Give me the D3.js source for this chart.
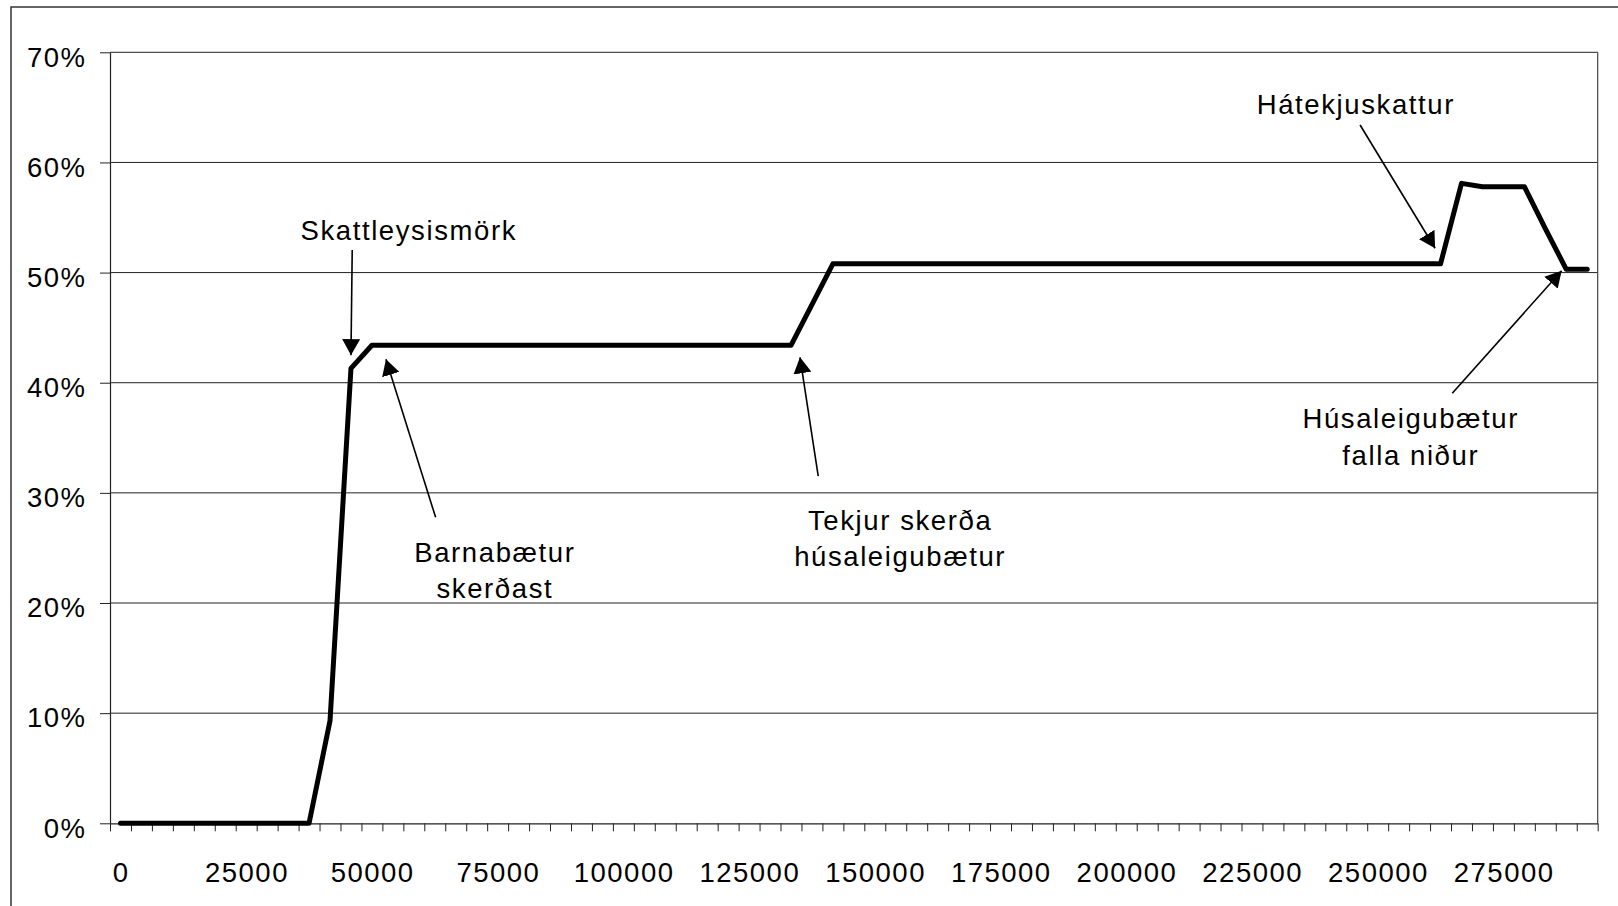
<!DOCTYPE html>
<html>
<head>
<meta charset="utf-8">
<script src="https://cdn.jsdelivr.net/npm/d3@7"></script>
<style>
  html, body { margin: 0; padding: 0; background: #fff; }
  svg { display: block; }
  text { font-family: "Liberation Sans", Arial, sans-serif; fill: #000; }
</style>
</head>
<body>
<svg id="chart" width="1618" height="906"></svg>
<script>
// ---- Data ----
const incomes = [
  0, 4167, 8333, 12500, 16667, 20833, 25000, 29167, 33333, 37500,
  41667, 45833, 50000, 54167, 58333, 62500, 66667, 70833, 75000, 79167,
  83333, 87500, 91667, 95833, 100000, 104167, 108333, 112500, 116667, 120833,
  125000, 129167, 133333, 137500, 141667, 145833, 150000, 154167, 158333, 162500,
  166667, 170833, 175000, 179167, 183333, 187500, 191667, 195833, 200000, 204167,
  208333, 212500, 216667, 220833, 225000, 229167, 233333, 237500, 241667, 245833,
  250000, 254167, 258333, 262500, 266667, 270833, 275000, 279167, 283333, 287500,
  291667
];
const marginalRate = [
  0, 0, 0, 0, 0, 0, 0, 0, 0, 0,
  0.093, 0.413, 0.434, 0.434, 0.434, 0.434, 0.434, 0.434, 0.434, 0.434,
  0.434, 0.434, 0.434, 0.434, 0.434, 0.434, 0.434, 0.434, 0.434, 0.434,
  0.434, 0.434, 0.434, 0.471, 0.508, 0.508, 0.508, 0.508, 0.508, 0.508,
  0.508, 0.508, 0.508, 0.508, 0.508, 0.508, 0.508, 0.508, 0.508, 0.508,
  0.508, 0.508, 0.508, 0.508, 0.508, 0.508, 0.508, 0.508, 0.508, 0.508,
  0.508, 0.508, 0.508, 0.508, 0.581, 0.578, 0.578, 0.578, 0.540, 0.503,
  0.503
];
const xTickLabels = ["0", "25000", "50000", "75000", "100000", "125000", "150000", "175000", "200000", "225000", "250000", "275000"];
const yTickValues = [0, 0.1, 0.2, 0.3, 0.4, 0.5, 0.6, 0.7];

// Annotations in data units (category index, rate)
const annotationTexts = [
  ["Skattleysismörk"],
  ["Barnabætur", "skerðast"],
  ["Tekjur skerða", "húsaleigubætur"],
  ["Hátekjuskattur"],
  ["Húsaleigubætur", "falla niður"]
];
const annotationAnchors = [ // [textCenterIndex, firstBaselineRate]
  [14.22, 0.530], [18.33, 0.2375], [37.67, 0.2663], [59.42, 0.6437], [62.04, 0.3586]
];
const arrowFrom = [[11.56, 0.5205], [15.54, 0.2778], [33.80, 0.3153], [59.66, 0.6340], [64.06, 0.3904]];
const arrowTo   = [[11.50, 0.425],  [13.17, 0.4213], [32.93, 0.4231], [63.24, 0.5221], [69.28, 0.5017]];

// ---- Layout ----
const svg = d3.select("#chart");
const plot = { left: 110, right: 1597.7, top: 52.3, bottom: 823.3 };
const axisFont = 27.5, axisLS = 1.5;
const annFont = 27.5, annLS = 1.6;

const x = d3.scaleLinear().domain([0, incomes.length]).range([plot.left, plot.right]);
const y = d3.scaleLinear().domain([0, 0.7]).range([plot.bottom, plot.top]);

// outer frame
svg.append("rect")
  .attr("x", 11).attr("y", 7).attr("width", 1700).attr("height", 1000)
  .attr("fill", "none").attr("stroke", "#333").attr("stroke-width", 1.5);

// gridlines
svg.append("g").selectAll("line").data(yTickValues.slice(1)).join("line")
  .attr("x1", plot.left).attr("x2", plot.right)
  .attr("y1", d => y(d)).attr("y2", d => y(d))
  .attr("stroke", "#222").attr("stroke-width", 1);

// right border of plot
svg.append("line")
  .attr("x1", plot.right).attr("x2", plot.right)
  .attr("y1", plot.top).attr("y2", plot.bottom)
  .attr("stroke", "#444").attr("stroke-width", 1.2);

// y axis
const yAxis = d3.axisLeft(y).tickValues(yTickValues).tickFormat(d3.format(".0%"))
  .tickSizeInner(10).tickSizeOuter(0).tickPadding(13.5);
const gy = svg.append("g").attr("transform", `translate(${plot.left},0)`).call(yAxis);
gy.attr("font-size", axisFont).attr("font-family", null);
gy.select(".domain").attr("stroke", "#222").attr("stroke-width", 1.2);
gy.selectAll(".tick line").attr("stroke", "#222");
gy.selectAll(".tick text")
  .attr("font-size", axisFont).attr("letter-spacing", axisLS)
  .attr("fill", "#000").attr("dy", "0.5em");

// x axis: boundary ticks
const xAxis = d3.axisBottom(x).tickValues(d3.range(0, incomes.length + 1))
  .tickSizeInner(8).tickSizeOuter(0).tickFormat("");
const gx = svg.append("g").attr("transform", `translate(0,${plot.bottom})`).call(xAxis);
gx.select(".domain").attr("stroke", "#222").attr("stroke-width", 1.2);
gx.selectAll(".tick line").attr("stroke", "#222");

// x labels: every 6th category, centered in band
const labelIdx = xTickLabels.map(l => incomes.indexOf(+l));
svg.append("g").selectAll("text").data(xTickLabels).join("text")
  .attr("x", (d, i) => x(labelIdx[i] + 0.5) + axisLS / 2)
  .attr("y", plot.bottom + 49)
  .attr("dy", "0.36em")
  .attr("text-anchor", "middle")
  .attr("font-size", axisFont).attr("letter-spacing", axisLS)
  .text(d => d);

// data line
const line = d3.line().x((d, i) => x(i + 0.5)).y(d => y(d));
svg.append("path").datum(marginalRate)
  .attr("d", line)
  .attr("fill", "none").attr("stroke", "#000").attr("stroke-width", 5)
  .attr("stroke-linejoin", "round").attr("stroke-linecap", "round");

// arrow marker
svg.append("defs").append("marker")
  .attr("id", "arrow").attr("markerUnits", "userSpaceOnUse")
  .attr("viewBox", "0 0 16 18").attr("refX", 16).attr("refY", 9)
  .attr("markerWidth", 16).attr("markerHeight", 18).attr("orient", "auto")
  .append("path").attr("d", "M0,0 L16,9 L0,18 Z").attr("fill", "#000");

// annotations
const ann = svg.append("g");
annotationTexts.forEach((lines, k) => {
  const [ci, r] = annotationAnchors[k];
  const t = ann.append("text")
    .attr("x", x(ci) + annLS / 2).attr("y", y(r))
    .attr("text-anchor", "middle")
    .attr("font-size", annFont).attr("letter-spacing", annLS);
  lines.forEach((s, j) => {
    t.append("tspan").attr("x", x(ci) + annLS / 2).attr("dy", j === 0 ? 0 : 36.5).text(s);
  });
  ann.append("line")
    .attr("x1", x(arrowFrom[k][0])).attr("y1", y(arrowFrom[k][1]))
    .attr("x2", x(arrowTo[k][0])).attr("y2", y(arrowTo[k][1]))
    .attr("stroke", "#000").attr("stroke-width", 1.6)
    .attr("marker-end", "url(#arrow)");
});
</script>
</body>
</html>
